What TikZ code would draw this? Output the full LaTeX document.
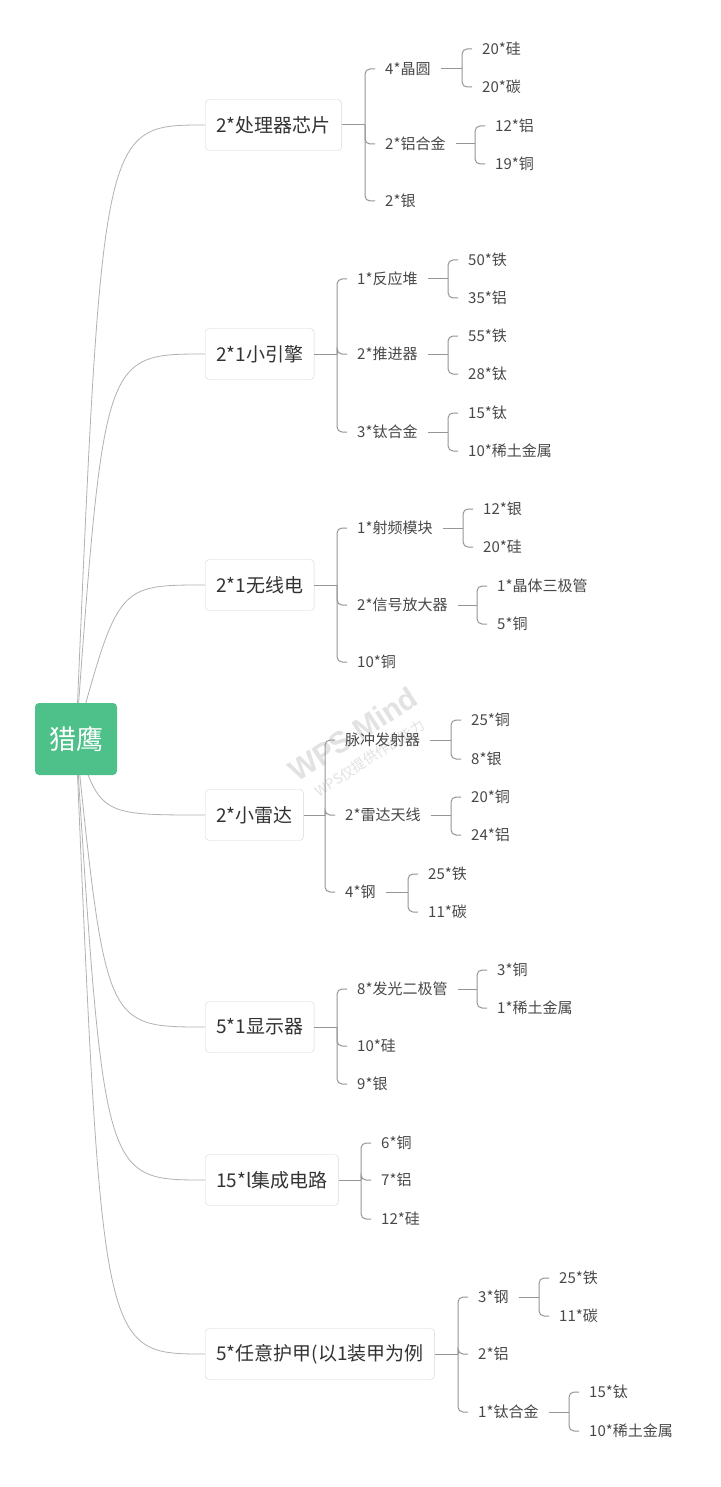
\documentclass[tikz,border=0pt]{standalone}
\usepackage{fontspec}
\setmainfont{Noto Sans CJK SC}
\newfontfamily\wmfont{Liberation Sans}
\usetikzlibrary{backgrounds}

\definecolor{rootgreen}{RGB}{78,192,138}
\definecolor{boxgray}{RGB}{214,214,214}
\definecolor{curvegray}{RGB}{178,178,178}
\definecolor{linegray}{RGB}{150,150,150}
\definecolor{txtdark}{RGB}{51,51,51}
\definecolor{txtgray}{RGB}{72,72,72}
\definecolor{wmgray}{RGB}{226,226,226}

\tikzset{
  rootbox/.style={fill=rootgreen, rounded corners=4pt, text=white, minimum width=82pt, minimum height=72pt, font=\fontsize{27}{30}\selectfont},
  topicbox/.style={draw=boxgray, fill=white, rounded corners=4pt, text=txtdark, inner xsep=11pt, minimum height=51pt, anchor=west, font=\fontsize{19}{22}\selectfont},
  leafnode/.style={text=txtgray, inner xsep=10pt, inner ysep=2pt, anchor=west, font=\fontsize{15}{18}\selectfont},
  rootcurve/.style={curvegray, line width=0.8pt},
  branchline/.style={linegray, line width=1pt, rounded corners=5pt},
}

\begin{document}
\begin{tikzpicture}[x=1pt, y=-1pt]
    \useasboundingbox (0,0) rectangle (720,1487);

    % Root
    \node[rootbox] (lieying) at (76,739) {猎鹰};

    % Topics
    \node[topicbox] (t1) at (205,125) {2*处理器芯片};
    \node[topicbox] (t2) at (205,354) {2*1小引擎};
    \node[topicbox] (t3) at (205,585) {2*1无线电};
    \node[topicbox] (t4) at (205,815) {2*小雷达};
    \node[topicbox] (t5) at (205,1027) {5*1显示器};
    \node[topicbox] (t6) at (205,1180) {15*l集成电路};
    \node[topicbox] (t7) at (205,1354) {5*任意护甲(以1装甲为例};

    % Curves and watermark
    \begin{scope}[on background layer]
        \fill[white] (0,0) rectangle (720,1487);
        \draw[rootcurve] (lieying.center) .. controls (102,125) .. (t1.west);
        \draw[rootcurve] (lieying.center) .. controls (104,354) .. (t2.west);
        \draw[rootcurve] (lieying.center) .. controls (118,585) .. (t3.west);
        \draw[rootcurve] (lieying.center) .. controls (100,815) .. (t4.west);
        \draw[rootcurve] (lieying.center) .. controls (106,1027) .. (t5.west);
        \draw[rootcurve] (lieying.center) .. controls (104,1180) .. (t6.west);
        \draw[rootcurve] (lieying.center) .. controls (102,1354) .. (t7.west);
        \node[text=wmgray, rotate=33, font=\wmfont\bfseries\fontsize{30}{32}\selectfont] (wm) at (353,734) {WPS Mind};
        \node[text=wmgray, rotate=33, font=\fontsize{14}{16}\selectfont] (wmsub) at (370,758) {WPS仅提供作图能力};
    \end{scope}

    % 2*处理器芯片
    \coordinate (t1s) at (365,125);
    \node[leafnode] (t1a) at (375,69) {4*晶圆};
    \node[leafnode] (t1b) at (375,144) {2*铝合金};
    \node[leafnode] (t1c) at (375,201) {2*银};
    \draw[branchline] (t1) -- (t1s);
    \draw[branchline] (t1s) |- (t1a);
    \draw[branchline] (t1s) |- (t1b);
    \draw[branchline] (t1s) |- (t1c);
    \coordinate (t1as) at (462,69);
    \node[leafnode] (t1a1) at (472,49) {20*硅};
    \node[leafnode] (t1a2) at (472,87) {20*碳};
    \draw[branchline] (t1a) -- (t1as);
    \draw[branchline] (t1as) |- (t1a1);
    \draw[branchline] (t1as) |- (t1a2);
    \coordinate (t1bs) at (475,144);
    \node[leafnode] (t1b1) at (485,126) {12*铝};
    \node[leafnode] (t1b2) at (485,164) {19*铜};
    \draw[branchline] (t1b) -- (t1bs);
    \draw[branchline] (t1bs) |- (t1b1);
    \draw[branchline] (t1bs) |- (t1b2);

    % 2*1小引擎
    \coordinate (t2s) at (337,354);
    \node[leafnode] (t2a) at (347,279) {1*反应堆};
    \node[leafnode] (t2b) at (347,354) {2*推进器};
    \node[leafnode] (t2c) at (347,432) {3*钛合金};
    \draw[branchline] (t2) -- (t2s);
    \draw[branchline] (t2s) |- (t2a);
    \draw[branchline] (t2s) |- (t2b);
    \draw[branchline] (t2s) |- (t2c);
    \coordinate (t2as) at (448,279);
    \node[leafnode] (t2a1) at (458,260) {50*铁};
    \node[leafnode] (t2a2) at (458,298) {35*铝};
    \draw[branchline] (t2a) -- (t2as);
    \draw[branchline] (t2as) |- (t2a1);
    \draw[branchline] (t2as) |- (t2a2);
    \coordinate (t2bs) at (448,354);
    \node[leafnode] (t2b1) at (458,336) {55*铁};
    \node[leafnode] (t2b2) at (458,374) {28*钛};
    \draw[branchline] (t2b) -- (t2bs);
    \draw[branchline] (t2bs) |- (t2b1);
    \draw[branchline] (t2bs) |- (t2b2);
    \coordinate (t2cs) at (448,432);
    \node[leafnode] (t2c1) at (458,413) {15*钛};
    \node[leafnode] (t2c2) at (458,451) {10*稀土金属};
    \draw[branchline] (t2c) -- (t2cs);
    \draw[branchline] (t2cs) |- (t2c1);
    \draw[branchline] (t2cs) |- (t2c2);

    % 2*1无线电
    \coordinate (t3s) at (337,585);
    \node[leafnode] (t3a) at (347,528) {1*射频模块};
    \node[leafnode] (t3b) at (347,605) {2*信号放大器};
    \node[leafnode] (t3c) at (347,662) {10*铜};
    \draw[branchline] (t3) -- (t3s);
    \draw[branchline] (t3s) |- (t3a);
    \draw[branchline] (t3s) |- (t3b);
    \draw[branchline] (t3s) |- (t3c);
    \coordinate (t3as) at (463,528);
    \node[leafnode] (t3a1) at (473,509) {12*银};
    \node[leafnode] (t3a2) at (473,547) {20*硅};
    \draw[branchline] (t3a) -- (t3as);
    \draw[branchline] (t3as) |- (t3a1);
    \draw[branchline] (t3as) |- (t3a2);
    \coordinate (t3bs) at (477,605);
    \node[leafnode] (t3b1) at (487,586) {1*晶体三极管};
    \node[leafnode] (t3b2) at (487,624) {5*铜};
    \draw[branchline] (t3b) -- (t3bs);
    \draw[branchline] (t3bs) |- (t3b1);
    \draw[branchline] (t3bs) |- (t3b2);

    % 2*小雷达
    \coordinate (t4s) at (325,815);
    \node[leafnode] (t4a) at (335,740) {脉冲发射器};
    \node[leafnode] (t4b) at (335,815) {2*雷达天线};
    \node[leafnode] (t4c) at (335,892) {4*钢};
    \draw[branchline] (t4) -- (t4s);
    \draw[branchline] (t4s) |- (t4a);
    \draw[branchline] (t4s) |- (t4b);
    \draw[branchline] (t4s) |- (t4c);
    \coordinate (t4as) at (451,740);
    \node[leafnode] (t4a1) at (461,720) {25*铜};
    \node[leafnode] (t4a2) at (461,759) {8*银};
    \draw[branchline] (t4a) -- (t4as);
    \draw[branchline] (t4as) |- (t4a1);
    \draw[branchline] (t4as) |- (t4a2);
    \coordinate (t4bs) at (451,815);
    \node[leafnode] (t4b1) at (461,797) {20*铜};
    \node[leafnode] (t4b2) at (461,835) {24*铝};
    \draw[branchline] (t4b) -- (t4bs);
    \draw[branchline] (t4bs) |- (t4b1);
    \draw[branchline] (t4bs) |- (t4b2);
    \coordinate (t4cs) at (408,892);
    \node[leafnode] (t4c1) at (418,874) {25*铁};
    \node[leafnode] (t4c2) at (418,912) {11*碳};
    \draw[branchline] (t4c) -- (t4cs);
    \draw[branchline] (t4cs) |- (t4c1);
    \draw[branchline] (t4cs) |- (t4c2);

    % 5*1显示器
    \coordinate (t5s) at (337,1027);
    \node[leafnode] (t5a) at (347,989) {8*发光二极管};
    \node[leafnode] (t5b) at (347,1046) {10*硅};
    \node[leafnode] (t5c) at (347,1084) {9*银};
    \draw[branchline] (t5) -- (t5s);
    \draw[branchline] (t5s) |- (t5a);
    \draw[branchline] (t5s) |- (t5b);
    \draw[branchline] (t5s) |- (t5c);
    \coordinate (t5as) at (477,989);
    \node[leafnode] (t5a1) at (487,970) {3*铜};
    \node[leafnode] (t5a2) at (487,1008) {1*稀土金属};
    \draw[branchline] (t5a) -- (t5as);
    \draw[branchline] (t5as) |- (t5a1);
    \draw[branchline] (t5as) |- (t5a2);

    % 15*l集成电路
    \coordinate (t6s) at (361,1180);
    \node[leafnode] (t6a) at (371,1143) {6*铜};
    \node[leafnode] (t6b) at (371,1180) {7*铝};
    \node[leafnode] (t6c) at (371,1219) {12*硅};
    \draw[branchline] (t6) -- (t6s);
    \draw[branchline] (t6s) |- (t6a);
    \draw[branchline] (t6s) |- (t6b);
    \draw[branchline] (t6s) |- (t6c);

    % 5*任意护甲
    \coordinate (t7s) at (458,1354);
    \node[leafnode] (t7a) at (468,1297) {3*钢};
    \node[leafnode] (t7b) at (468,1354) {2*铝};
    \node[leafnode] (t7c) at (468,1412) {1*钛合金};
    \draw[branchline] (t7) -- (t7s);
    \draw[branchline] (t7s) |- (t7a);
    \draw[branchline] (t7s) |- (t7b);
    \draw[branchline] (t7s) |- (t7c);
    \coordinate (t7as) at (539,1297);
    \node[leafnode] (t7a1) at (549,1278) {25*铁};
    \node[leafnode] (t7a2) at (549,1316) {11*碳};
    \draw[branchline] (t7a) -- (t7as);
    \draw[branchline] (t7as) |- (t7a1);
    \draw[branchline] (t7as) |- (t7a2);
    \coordinate (t7cs) at (569,1412);
    \node[leafnode] (t7c1) at (579,1392) {15*钛};
    \node[leafnode] (t7c2) at (579,1431) {10*稀土金属};
    \draw[branchline] (t7c) -- (t7cs);
    \draw[branchline] (t7cs) |- (t7c1);
    \draw[branchline] (t7cs) |- (t7c2);
\end{tikzpicture}
\end{document}
